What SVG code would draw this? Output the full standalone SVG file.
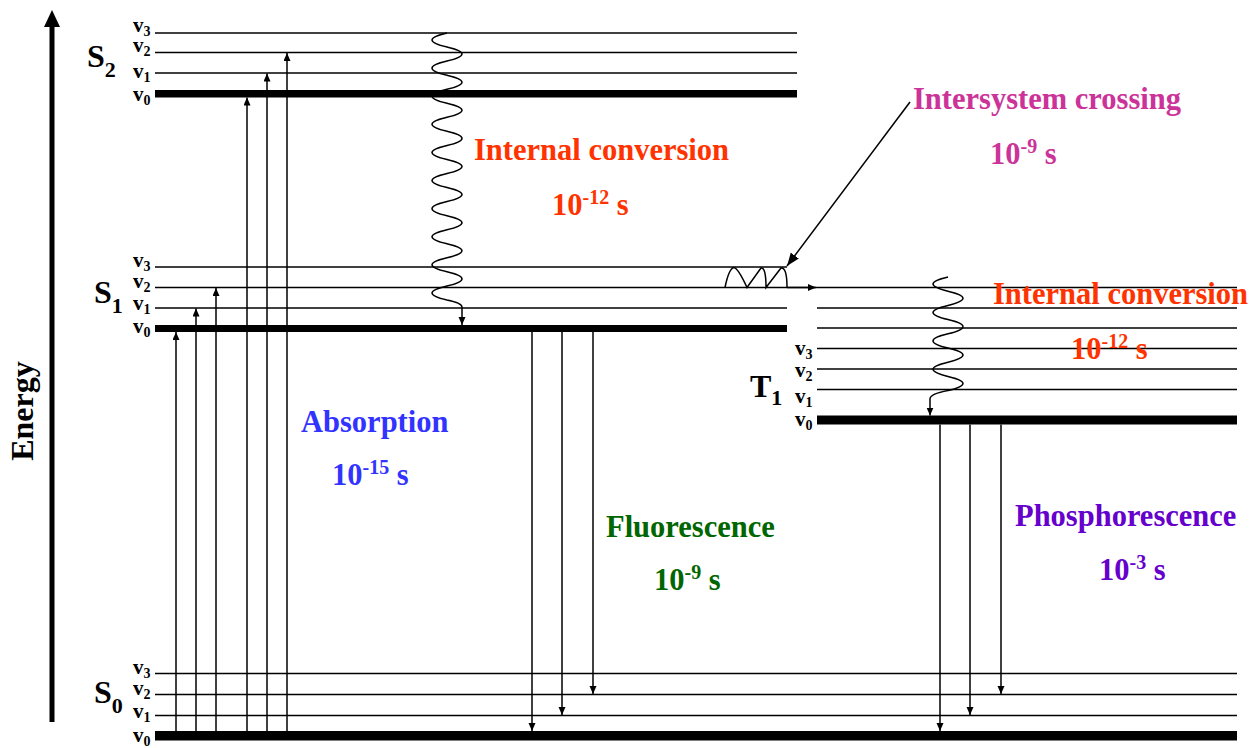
<svg xmlns="http://www.w3.org/2000/svg" width="1250" height="748" viewBox="0 0 1250 748">
<style>
text{font-family:"Liberation Serif","Times New Roman",serif;font-weight:bold}
.lv{stroke:#000;stroke-width:1.6;fill:none}
.th{fill:#000}
.st{font-size:32px;fill:#000}
.vl{font-size:21px;fill:#000}
.cn{stroke:#000;stroke-width:1.5;fill:none}
.lab{font-size:30.5px}
.ic{fill:#FF3300}
.isc{fill:#CC3399}
.ab{fill:#3333FF}
.fl{fill:#006600}
.ph{fill:#6600CC}
</style>
<defs>
<marker id="ah" markerUnits="userSpaceOnUse" markerWidth="9" markerHeight="8" refX="8" refY="3.5" orient="auto"><path d="M0,0 L8,3.5 L0,7 z" fill="#000"/></marker>
<marker id="ahb" markerUnits="userSpaceOnUse" markerWidth="14" markerHeight="12" refX="13" refY="5" orient="auto"><path d="M0,0 L13,5 L0,10 z" fill="#000"/></marker>
</defs>
<rect width="1250" height="748" fill="#fff"/>

<g id="energy-axis">
<line x1="52" y1="722" x2="52" y2="24" stroke="#000" stroke-width="5"/>
<polygon points="52,10 44,27 60,27" fill="#000"/>
<text x="33" y="411" transform="rotate(-90 33 411)" text-anchor="middle" style="font-size:32px" fill="#000">Energy</text>
</g>

<g id="S2">
<line class="lv" x1="155" y1="33" x2="797" y2="33"/>
<line class="lv" x1="155" y1="52.5" x2="797" y2="52.5"/>
<line class="lv" x1="155" y1="73" x2="797" y2="73"/>
<rect class="th" x="155" y="90" width="642" height="7.5"/>
<text class="st" x="87" y="67">S<tspan dy="10" style="font-size:22px">2</tspan></text>
<text class="vl" x="133" y="32">v<tspan dy="4" style="font-size:14px">3</tspan></text>
<text class="vl" x="133" y="52">v<tspan dy="4" style="font-size:14px">2</tspan></text>
<text class="vl" x="133" y="78">v<tspan dy="4" style="font-size:14px">1</tspan></text>
<text class="vl" x="133" y="101">v<tspan dy="4" style="font-size:14px">0</tspan></text>
</g>

<g id="S1">
<line class="lv" x1="155" y1="267" x2="787" y2="267"/>
<line class="lv" x1="155" y1="287.5" x2="1237" y2="287.5"/>
<line class="lv" x1="155" y1="308" x2="787" y2="308"/>
<rect class="th" x="155" y="325" width="632" height="7"/>
<text class="st" x="94" y="303">S<tspan dy="10" style="font-size:22px">1</tspan></text>
<text class="vl" x="133" y="267">v<tspan dy="4" style="font-size:14px">3</tspan></text>
<text class="vl" x="133" y="288">v<tspan dy="4" style="font-size:14px">2</tspan></text>
<text class="vl" x="133" y="310">v<tspan dy="4" style="font-size:14px">1</tspan></text>
<text class="vl" x="133" y="333">v<tspan dy="4" style="font-size:14px">0</tspan></text>
</g>

<g id="T1">
<line class="lv" x1="817" y1="308" x2="1237" y2="308"/>
<line class="lv" x1="817" y1="328" x2="1237" y2="328"/>
<line class="lv" x1="817" y1="348.5" x2="1237" y2="348.5"/>
<line class="lv" x1="817" y1="369" x2="1237" y2="369"/>
<line class="lv" x1="817" y1="389.5" x2="1237" y2="389.5"/>
<rect class="th" x="817" y="415.5" width="420" height="9"/>
<text class="st" x="750" y="397">T<tspan dy="8" style="font-size:22px">1</tspan></text>
<text class="vl" x="795" y="355">v<tspan dy="4" style="font-size:14px">3</tspan></text>
<text class="vl" x="795" y="377">v<tspan dy="4" style="font-size:14px">2</tspan></text>
<text class="vl" x="795" y="403">v<tspan dy="4" style="font-size:14px">1</tspan></text>
<text class="vl" x="795" y="426">v<tspan dy="4" style="font-size:14px">0</tspan></text>
</g>

<g id="S0">
<line class="lv" x1="155" y1="673.5" x2="1237" y2="673.5"/>
<line class="lv" x1="155" y1="694.5" x2="1237" y2="694.5"/>
<line class="lv" x1="155" y1="715.5" x2="1237" y2="715.5"/>
<rect class="th" x="155" y="731" width="1082" height="9.5"/>
<text class="st" x="94" y="703">S<tspan dy="10" style="font-size:22px">0</tspan></text>
<text class="vl" x="133" y="674">v<tspan dy="4" style="font-size:14px">3</tspan></text>
<text class="vl" x="133" y="695">v<tspan dy="4" style="font-size:14px">2</tspan></text>
<text class="vl" x="133" y="718">v<tspan dy="4" style="font-size:14px">1</tspan></text>
<text class="vl" x="133" y="742">v<tspan dy="4" style="font-size:14px">0</tspan></text>
</g>

<g id="connectors">
<!-- absorption -->
<line class="cn" x1="176" y1="731" x2="176" y2="332" marker-end="url(#ah)"/>
<line class="cn" x1="196" y1="731" x2="196" y2="308.5" marker-end="url(#ah)"/>
<line class="cn" x1="216" y1="731" x2="216" y2="288" marker-end="url(#ah)"/>
<line class="cn" x1="247" y1="731" x2="247" y2="97.5" marker-end="url(#ah)"/>
<line class="cn" x1="267" y1="731" x2="267" y2="73.5" marker-end="url(#ah)"/>
<line class="cn" x1="287" y1="731" x2="287" y2="53" marker-end="url(#ah)"/>
<!-- fluorescence -->
<line class="cn" x1="532" y1="332" x2="532" y2="731" marker-end="url(#ah)"/>
<line class="cn" x1="562" y1="332" x2="562" y2="715" marker-end="url(#ah)"/>
<line class="cn" x1="593" y1="332" x2="593" y2="694" marker-end="url(#ah)"/>
<!-- phosphorescence -->
<line class="cn" x1="940" y1="424.5" x2="940" y2="731" marker-end="url(#ah)"/>
<line class="cn" x1="970" y1="424.5" x2="970" y2="715" marker-end="url(#ah)"/>
<line class="cn" x1="1001" y1="424.5" x2="1001" y2="694" marker-end="url(#ah)"/>
<!-- internal conversion S2 -> S1 -->
<path class="cn" d="M447,33 q-30,7.025 0,14.05 t0,14.05 t0,14.05 t0,14.05 t0,14.05 t0,14.05 t0,14.05 t0,14.05 t0,14.05 t0,14.05 t0,14.05 t0,14.05 t0,14.05 t0,14.05 t0,14.05 t0,14.05 t0,14.05 t0,14.05 t0,14.05 Q462,303 462,307 L462,325" marker-end="url(#ah)"/>
<!-- internal conversion within T1 -->
<path class="cn" d="M948,277 q-30,7.1 0,14.2 t0,14.2 t0,14.2 t0,14.2 t0,14.2 t0,14.2 t0,14.2 t0,14.2 Q930,394 930,399 L930,415.5" marker-end="url(#ah)"/>
<!-- intersystem crossing -->
<path class="cn" d="M725,287.5 Q729,268 734,267.5 Q738,268 747,287.5 L761,268 Q766,267 766,287.5 L781,268 Q787,267 787,287.5"/>
<line class="cn" x1="787" y1="287.5" x2="816" y2="287.5" marker-end="url(#ah)"/>
<line class="cn" x1="910" y1="102" x2="787" y2="266" marker-end="url(#ahb)"/>
</g>

<g id="labels">
<text class="lab isc" x="913" y="109">Intersystem crossing</text>
<text class="lab isc" x="990" y="164">10<tspan dy="-11" style="font-size:20px">-9</tspan><tspan dy="11"> s</tspan></text>
<text class="lab ic" x="474" y="160">Internal conversion</text>
<text class="lab ic" x="552" y="215">10<tspan dy="-11" style="font-size:20px">-12</tspan><tspan dy="11"> s</tspan></text>
<text class="lab ic" x="993" y="304">Internal conversion</text>
<text class="lab ic" x="1071" y="359">10<tspan dy="-11" style="font-size:20px">-12</tspan><tspan dy="11"> s</tspan></text>
<text class="lab ab" x="301" y="432">Absorption</text>
<text class="lab ab" x="332" y="485">10<tspan dy="-11" style="font-size:20px">-15</tspan><tspan dy="11"> s</tspan></text>
<text class="lab fl" x="606" y="537">Fluorescence</text>
<text class="lab fl" x="654" y="590">10<tspan dy="-11" style="font-size:20px">-9</tspan><tspan dy="11"> s</tspan></text>
<text class="lab ph" x="1015" y="526">Phosphorescence</text>
<text class="lab ph" x="1099" y="580">10<tspan dy="-11" style="font-size:20px">-3</tspan><tspan dy="11"> s</tspan></text>
</g>
</svg>
